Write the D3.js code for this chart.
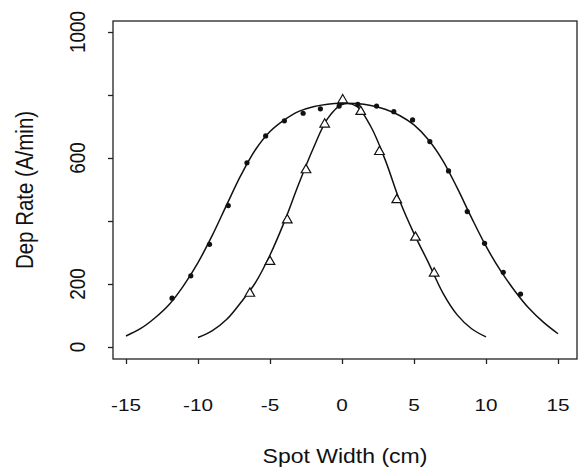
<!DOCTYPE html>
<html>
<head>
<meta charset="utf-8">
<script src="https://cdn.jsdelivr.net/npm/d3@7"></script>
<style>
  body { margin: 0; background: #fff; }
  text { font-family: "Liberation Sans", Arial, Helvetica, sans-serif; fill: #111; }
</style>
</head>
<body>
<svg id="chart"></svg>
<script>
const width = 578;
const height = 467;

// fitted profile, wide spot
const wideFitX = [-15, -14, -13, -12, -11, -10, -9, -8, -7, -6, -5, -4, -3, -2, -1, 0, 1, 2, 3, 4, 5, 6, 7, 8, 9, 10, 11, 12, 13, 14, 15];
const wideFitY = [35, 58, 92, 135, 195, 268, 355, 452, 547, 627, 684, 721, 748, 763, 771, 774, 773, 767, 755, 735, 705, 658, 592, 505, 410, 320, 243, 178, 122, 78, 42];

// fitted profile, narrow spot
const narrowFitX = [-10, -9, -8, -7, -6, -5, -4, -3, -2, -1, 0, 1, 2, 3, 4, 5, 6, 7, 8, 9, 10];
const narrowFitY = [30, 52, 88, 143, 205, 292, 398, 518, 630, 725, 770, 765, 700, 594, 465, 360, 268, 172, 102, 58, 32];

// measured points (filled dots)
const dotX = [-11.8, -10.5, -9.2, -7.9, -6.6, -5.3, -4.0, -2.7, -1.5, -0.2, 1.1, 2.4, 3.6, 4.9, 6.1, 7.4, 8.7, 9.9, 11.2, 12.4];
const dotY = [155, 226, 326, 449, 585, 670, 718, 742, 756, 765, 770, 765, 747, 721, 652, 559, 430, 329, 237, 168];

// measured points (open triangles)
const triX = [-6.4, -5.0, -3.8, -2.5, -1.2, 0.05, 1.3, 2.6, 3.8, 5.1, 6.4];
const triY = [170, 271, 403, 562, 707, 784, 747, 620, 467, 348, 234];

const xTicks = [-15, -10, -5, 0, 5, 10, 15];
const yTicks = [0, 200, 400, 600, 800, 1000];
const yLabels = [0, 200, 600, 1000];

const frame = { left: 113, top: 21, right: 577, bottom: 359 };

const svg = d3.select("#chart").attr("width", width).attr("height", height);

const x = d3.scaleLinear().domain([-15, 15]).range([126, 558]);
const y = d3.scaleLinear().domain([0, 1000]).range([347, 32]);

// frame
svg
  .append("rect")
  .attr("x", frame.left)
  .attr("y", frame.top)
  .attr("width", frame.right - frame.left)
  .attr("height", frame.bottom - frame.top)
  .attr("fill", "none")
  .attr("stroke", "#222")
  .attr("stroke-width", 1.3);

// x axis
const xAxis = d3.axisBottom(x).tickValues(xTicks).tickSize(5).tickFormat("");
const gx = svg.append("g").attr("transform", `translate(0, ${frame.bottom})`).call(xAxis);
gx.select(".domain").remove();
gx.selectAll("line").attr("stroke", "#222").attr("stroke-width", 1.3);

svg
  .selectAll(".xlab")
  .data(xTicks)
  .enter()
  .append("text")
  .attr("class", "xlab")
  .attr("text-anchor", "middle")
  .attr("font-size", 17)
  .attr("transform", d => `translate(${x(d)}, 411) scale(1.22, 1)`)
  .text(d => d);

// y axis
const yAxis = d3.axisLeft(y).tickValues(yTicks).tickSize(5).tickFormat("");
const gy = svg.append("g").attr("transform", `translate(${frame.left}, 0)`).call(yAxis);
gy.select(".domain").remove();
gy.selectAll("line").attr("stroke", "#222").attr("stroke-width", 1.3);

svg
  .selectAll(".ylab")
  .data(yLabels)
  .enter()
  .append("text")
  .attr("class", "ylab")
  .attr("text-anchor", "middle")
  .attr("font-size", 19)
  .attr("transform", d => `translate(85, ${y(d)}) scale(1.2, 1) rotate(-90)`)
  .text(d => d);

// axis titles
svg
  .append("text")
  .attr("text-anchor", "middle")
  .attr("font-size", 19.5)
  .attr("transform", "translate(345, 463) scale(1.18, 1)")
  .text("Spot Width (cm)");

svg
  .append("text")
  .attr("text-anchor", "middle")
  .attr("font-size", 20.5)
  .attr("transform", "translate(33, 190) scale(1.2, 1) rotate(-90)")
  .text("Dep Rate (A/min)");

// fitted curves
const line = d3
  .line()
  .x(d => x(d[0]))
  .y(d => y(d[1]))
  .curve(d3.curveCatmullRom);

svg
  .append("path")
  .datum(d3.zip(wideFitX, wideFitY))
  .attr("d", line)
  .attr("fill", "none")
  .attr("stroke", "#111")
  .attr("stroke-width", 1.5);

svg
  .append("path")
  .datum(d3.zip(narrowFitX, narrowFitY))
  .attr("d", line)
  .attr("fill", "none")
  .attr("stroke", "#111")
  .attr("stroke-width", 1.5);

// measured points
svg
  .selectAll(".dot")
  .data(d3.zip(dotX, dotY))
  .enter()
  .append("circle")
  .attr("class", "dot")
  .attr("cx", d => x(d[0]))
  .attr("cy", d => y(d[1]))
  .attr("r", 2.6)
  .attr("fill", "#111");

svg
  .selectAll(".tri")
  .data(d3.zip(triX, triY))
  .enter()
  .append("path")
  .attr("class", "tri")
  .attr("d", d3.symbol(d3.symbolTriangle, 40))
  .attr("transform", d => `translate(${x(d[0])}, ${y(d[1])})`)
  .attr("fill", "#fff")
  .attr("stroke", "#111")
  .attr("stroke-width", 1.2);
</script>
</body>
</html>
